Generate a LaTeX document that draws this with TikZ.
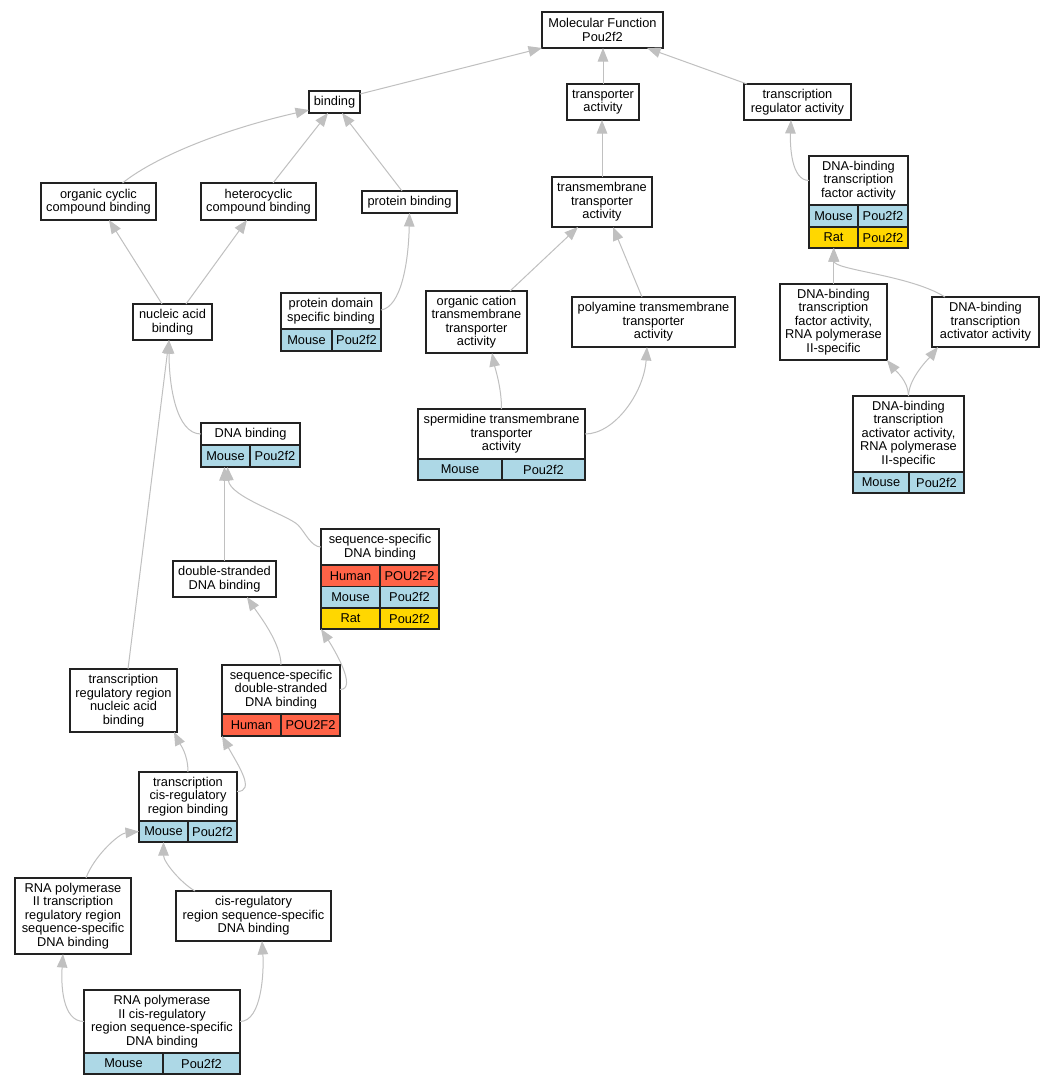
\documentclass[tikz,border=0pt]{standalone}
\usepackage{fontspec}
\setmainfont{Liberation Sans}
\usetikzlibrary{arrows.meta}
\definecolor{cblue}{HTML}{ADD8E6}
\definecolor{ctom}{HTML}{FF6347}
\definecolor{cgold}{HTML}{FFD700}
\definecolor{cedge}{HTML}{C0C0C0}
\definecolor{cline}{HTML}{222222}
% box: name, x1, y1, x2, y2, text
\newcommand\bx[6]{\node[box, minimum width={(#4-#2)*1pt}, minimum height={(#5-#3)*1pt}] (#1) at ({(#2+#4)/2},{(#3+#5)/2}) {#6};}
% cell: name, x1, y1, x2, y2, colour, text
\newcommand\cl[7]{\node[box, fill=#6, minimum width={(#4-#2)*1pt}, minimum height={(#5-#3)*1pt}] (#1) at ({(#2+#4)/2},{(#3+#5)/2}) {#7};}
% frame of a table: name, x1, y1, x2, y2
\newcommand\fr[5]{\node[framebox, minimum width={(#4-#2)*1pt}, minimum height={(#5-#3)*1pt}] (#1) at ({(#2+#4)/2},{(#3+#5)/2}) {};}
\begin{document}
\begin{tikzpicture}[x=1pt,y=-1pt,
  box/.style={draw=cline, line width=1.2pt, fill=white, align=center, inner sep=0pt, outer sep=0pt,
    font=\fontsize{12.8pt}{13.5pt}\selectfont},
  framebox/.style={draw=cline, line width=1.2pt, inner sep=0pt, outer sep=0pt},
  edge/.style={draw=cedge, line width=1pt, -{Triangle[length=13.5pt,width=10.5pt]}}]
\useasboundingbox[fill=white] (0,0) rectangle (1055,1085);

% plain boxes
\bx{mf}{542}{12}{663}{48}{Molecular Function\\Pou2f2}
\bx{binding}{309}{91}{360}{113}{binding}
\bx{ta}{567}{84}{639}{120}{transporter\\activity}
\bx{tra}{744}{84}{851}{120}{transcription\\regulator activity}
\bx{occb}{41}{183}{156}{220}{organic cyclic\\compound binding}
\bx{hccb}{201}{183}{316}{220}{heterocyclic\\compound binding}
\bx{pb}{362}{191}{457}{213}{protein binding}
\bx{nab}{133}{304}{212}{340}{nucleic acid\\binding}
\bx{oct}{426}{291}{527}{353}{organic cation\\transmembrane\\transporter\\activity}
\bx{tmt}{552}{177}{652}{227}{transmembrane\\transporter\\activity}
\bx{pat}{572}{297}{735}{347}{polyamine transmembrane\\transporter\\activity}
\bx{rnatf}{780}{284}{887}{360}{DNA-binding\\transcription\\factor activity,\\RNA polymerase\\II-specific}
\bx{act}{932}{297}{1039}{347}{DNA-binding\\transcription\\activator activity}
\bx{dsdb}{173}{561}{276}{597}{double-stranded\\DNA binding}
\bx{trr}{70}{669}{177}{732}{transcription\\regulatory region\\nucleic acid\\binding}
\bx{rnatrr}{15}{878}{131}{954}{RNA polymerase\\II transcription\\regulatory region\\sequence-specific\\DNA binding}
\bx{cisss}{176}{891}{331}{941}{cis-regulatory\\region sequence-specific\\DNA binding}

% tables
\bx{pdsbh}{281}{293}{381}{329}{protein domain\\specific binding}
\cl{pdsbm}{281}{329}{332}{351}{cblue}{Mouse}
\cl{pdsbp}{332}{329}{381}{351}{cblue}{Pou2f2}
\fr{pdsb}{281}{293}{381}{351}

\bx{spth}{418}{409}{585}{459}{spermidine transmembrane\\transporter\\activity}
\cl{sptm}{418}{459}{502}{480}{cblue}{Mouse}
\cl{sptp}{502}{459}{585}{480}{cblue}{Pou2f2}
\fr{spt}{418}{409}{585}{480}

\bx{dbtfh}{809}{156}{908}{205}{DNA-binding\\transcription\\factor activity}
\cl{dbtfm}{809}{205}{858}{227}{cblue}{Mouse}
\cl{dbtfp}{858}{205}{908}{227}{cblue}{Pou2f2}
\cl{dbtfr}{809}{227}{858}{248}{cgold}{Rat}
\cl{dbtfq}{858}{227}{908}{248}{cgold}{Pou2f2}
\fr{dbtf}{809}{156}{908}{248}

\bx{actrnah}{853}{396}{964}{472}{DNA-binding\\transcription\\activator activity,\\RNA polymerase\\II-specific}
\cl{actrnam}{853}{472}{909}{493}{cblue}{Mouse}
\cl{actrnap}{909}{472}{964}{493}{cblue}{Pou2f2}
\fr{actrna}{853}{396}{964}{493}

\bx{dnabh}{201}{423}{300}{445}{DNA binding}
\cl{dnabm}{201}{445}{250}{467}{cblue}{Mouse}
\cl{dnabp}{250}{445}{300}{467}{cblue}{Pou2f2}
\fr{dnab}{201}{423}{300}{467}

\bx{ssdbh}{321}{529}{439}{565}{sequence-specific\\DNA binding}
\cl{ssdbh1}{321}{565}{380}{586.5}{ctom}{Human}
\cl{ssdbh2}{380}{565}{439}{586.5}{ctom}{POU2F2}
\cl{ssdbm1}{321}{586.5}{380}{608}{cblue}{Mouse}
\cl{ssdbm2}{380}{586.5}{439}{608}{cblue}{Pou2f2}
\cl{ssdbr1}{321}{608}{380}{629}{cgold}{Rat}
\cl{ssdbr2}{380}{608}{439}{629}{cgold}{Pou2f2}
\fr{ssdb}{321}{529}{439}{629}

\bx{ssdsh}{222}{665}{340}{714}{sequence-specific\\double-stranded\\DNA binding}
\cl{ssdsh1}{222}{714}{281}{736}{ctom}{Human}
\cl{ssdsh2}{281}{714}{340}{736}{ctom}{POU2F2}
\fr{ssds}{222}{665}{340}{736}

\bx{tcrrbh}{139}{772}{237}{821}{transcription\\cis-regulatory\\region binding}
\cl{tcrrbm}{139}{821}{188}{842}{cblue}{Mouse}
\cl{tcrrbp}{188}{821}{237}{842}{cblue}{Pou2f2}
\fr{tcrrb}{139}{772}{237}{842}

\bx{rnacish}{84}{990}{240}{1053}{RNA polymerase\\II cis-regulatory\\region sequence-specific\\DNA binding}
\cl{rnacism}{84}{1053}{163}{1074}{cblue}{Mouse}
\cl{rnacisp}{163}{1053}{240}{1074}{cblue}{Pou2f2}
\fr{rnacis}{84}{990}{240}{1074}

% edges (child -> parent)
\draw[edge] ([yshift=-3pt]binding.north east) -- (mf.south west);
\draw[edge] (ta.north) -- (ta.north |- mf.south);
\draw[edge] ([xshift=3pt]tra.north west) -- ([xshift=-16pt]mf.south east);
\draw[edge] ([xshift=24pt]occb.north) .. controls +(35,-28) and +(-80,18) .. ([yshift=3pt]binding.south west);
\draw[edge] ([xshift=14.5pt]hccb.north) -- ([xshift=-6.5pt]binding.south);
\draw[edge] ([xshift=-7.5pt]pb.north) -- ([xshift=7.5pt]binding.south);
\draw[edge] ([xshift=-10.5pt]nab.north) -- ([xshift=10.5pt]occb.south);
\draw[edge] ([xshift=13.5pt]nab.north) -- ([xshift=-11.5pt]hccb.south);
\draw[edge] ([yshift=12pt]pdsb.east) .. controls +(20,-3) and +(-1,50) .. (pb.south);
\draw[edge] (dnabh.west) .. controls +(-25,0) and +(0,45) .. ([xshift=-3.5pt]nab.south);
\draw[edge] ([xshift=4.5pt]trr.north) -- ([xshift=-3.5pt]nab.south);
\draw[edge] (dsdb.north) -- (dsdb.north |- dnab.south);
\draw[edge] (ssdbh.west) .. controls +(-10,0) and +(7,7) .. (298,525) .. controls +(-10,-10) and +(2,30) .. ([xshift=-23pt]dnab.south);
\draw[edge] (ssds.north) .. controls +(0,-22) and +(12,18) .. ([xshift=22.5pt]dsdb.south);
\draw[edge] (ssdsh.east) .. controls +(18,0) and +(13,20) .. (ssdb.south west);
\draw[edge] (tcrrb.north) .. controls +(0,-18) and +(6,12) .. ([xshift=50.5pt]trr.south);
\draw[edge] ([yshift=5pt]tcrrbh.east) .. controls +(19,0) and +(16,29) .. (ssds.south west);
\draw[edge] ([xshift=13pt]rnatrr.north) .. controls +(8,-22) and +(-20,2) .. (tcrrbm.west);
\draw[edge] ([xshift=-58.5pt]cisss.north) .. controls +(-14,-8) and +(0,20) .. (tcrrbm.south);
\draw[edge] (rnacish.west) .. controls +(-22,0) and +(-2,30) .. ([xshift=-10pt]rnatrr.south);
\draw[edge] (rnacish.east) .. controls +(22,0) and +(2,30) .. ([xshift=8.5pt]cisss.south);
\draw[edge] (tmt.north) -- (tmt.north |- ta.south);
\draw[edge] ([xshift=33.5pt]oct.north) -- ([xshift=-24pt]tmt.south);
\draw[edge] ([xshift=-11.5pt]pat.north) -- ([xshift=11pt]tmt.south);
\draw[edge] (spt.north) .. controls +(0,-22) and +(3,15) .. ([xshift=15.5pt]oct.south);
\draw[edge] (spth.east) .. controls +(30,0) and +(-3,45) .. ([xshift=-6.5pt]pat.south);
\draw[edge] (dbtfh.west) .. controls +(-18,0) and +(-1,25) .. ([xshift=-6.5pt]tra.south);
\draw[edge] (rnatf.north) -- (rnatf.north |- dbtf.south);
\draw[edge] ([xshift=13pt]act.north west) .. controls +(-35,-22) and +(0,22) .. ([xshift=-24.5pt]dbtf.south);
\draw[edge] (actrna.north) .. controls +(0,-15) and +(8,10) .. (rnatf.south east);
\draw[edge] (actrna.north) .. controls +(0,-18) and +(-8,10) .. ([xshift=6pt]act.south west);
\end{tikzpicture}
\end{document}
